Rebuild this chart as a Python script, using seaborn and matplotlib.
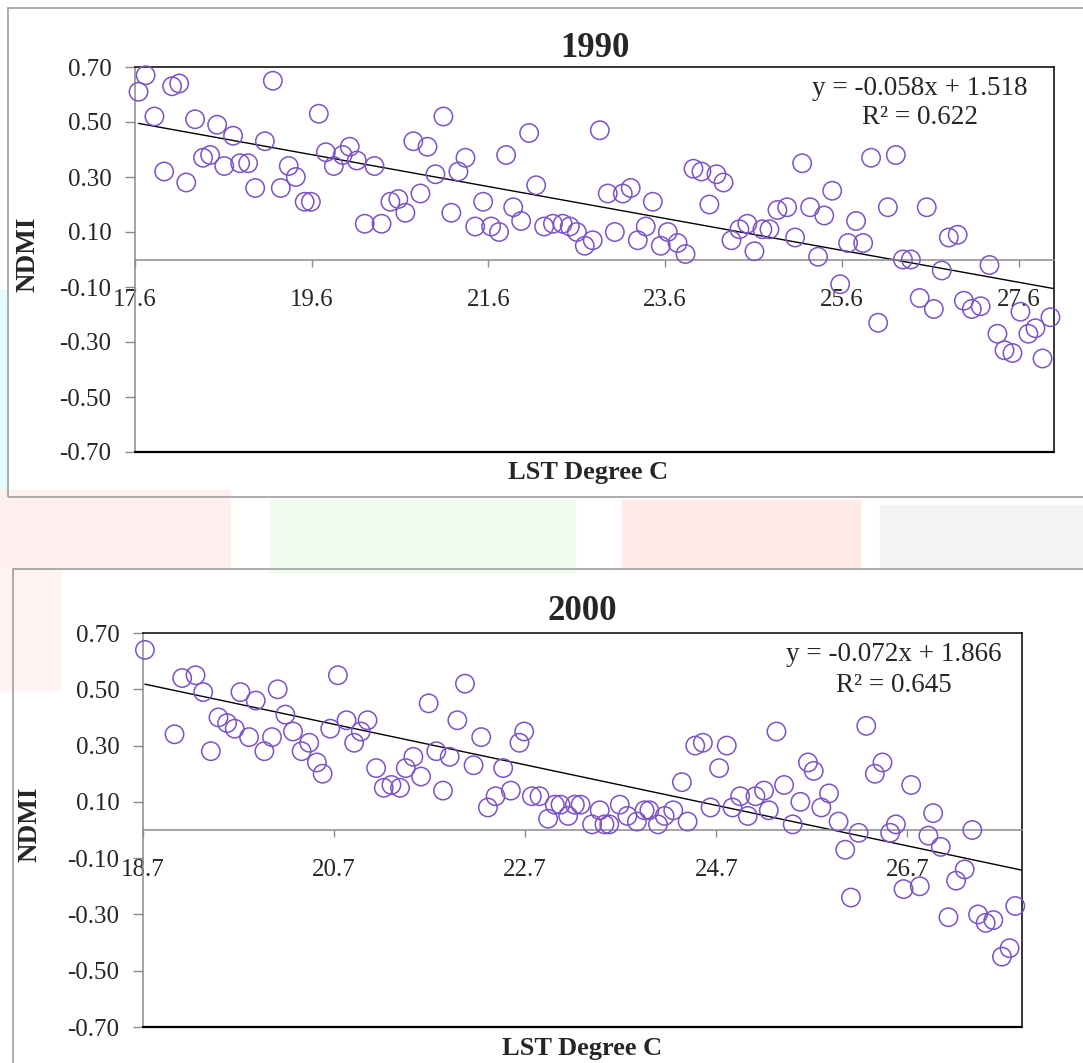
import numpy as np
import matplotlib.pyplot as plt
from matplotlib.patches import Rectangle
from matplotlib.ticker import FormatStrFormatter
import seaborn as sns

# values (LST in degree C, NDMI)
lst_1990 = [17.64, 17.72, 17.82, 17.93, 18.02, 18.10, 18.18, 18.28, 18.37, 18.45,
            18.53, 18.61, 18.71, 18.79, 18.88, 18.96, 19.07, 19.16, 19.25, 19.34,
            19.42, 19.52, 19.59, 19.68, 19.76, 19.85, 19.95, 20.03, 20.11, 20.20,
            20.31, 20.39, 20.49, 20.58, 20.66, 20.75, 20.83, 20.91, 21.00, 21.09,
            21.18, 21.26, 21.34, 21.45, 21.54, 21.63, 21.72, 21.80, 21.88, 21.97,
            22.06, 22.14, 22.23, 22.33, 22.44, 22.52, 22.60, 22.69, 22.78, 22.86,
            22.95, 23.03, 23.12, 23.21, 23.29, 23.38, 23.46, 23.55, 23.63, 23.74,
            23.83, 23.92, 24.01, 24.10, 24.18, 24.26, 24.35, 24.44, 24.53, 24.61,
            24.70, 24.78, 24.87, 24.98, 25.07, 25.15, 25.24, 25.33, 25.40, 25.49,
            25.58, 25.67, 25.76, 25.84, 25.93, 26.01, 26.12, 26.21, 26.29, 26.38,
            26.48, 26.56, 26.64, 26.73, 26.81, 26.91, 26.98, 27.07, 27.17, 27.27,
            27.36, 27.44, 27.53, 27.62, 27.71, 27.79, 27.87, 27.96]
ndmi_1990 = [0.61, 0.67, 0.52, 0.32, 0.63, 0.64, 0.28, 0.51, 0.37, 0.38,
             0.49, 0.34, 0.45, 0.35, 0.35, 0.26, 0.43, 0.65, 0.26, 0.34,
             0.30, 0.21, 0.21, 0.53, 0.39, 0.34, 0.38, 0.41, 0.36, 0.13,
             0.34, 0.13, 0.21, 0.22, 0.17, 0.43, 0.24, 0.41, 0.31, 0.52,
             0.17, 0.32, 0.37, 0.12, 0.21, 0.12, 0.10, 0.38, 0.19, 0.14,
             0.46, 0.27, 0.12, 0.13, 0.13, 0.12, 0.10, 0.05, 0.07, 0.47,
             0.24, 0.10, 0.24, 0.26, 0.07, 0.12, 0.21, 0.05, 0.10, 0.06,
             0.02, 0.33, 0.32, 0.20, 0.31, 0.28, 0.07, 0.11, 0.13, 0.03,
             0.11, 0.11, 0.18, 0.19, 0.08, 0.35, 0.19, 0.01, 0.16, 0.25,
             -0.09, 0.06, 0.14, 0.06, 0.37, -0.23, 0.19, 0.38, 0.00, 0.00,
             -0.14, 0.19, -0.18, -0.04, 0.08, 0.09, -0.15, -0.18, -0.17, -0.02,
             -0.27, -0.33, -0.34, -0.19, -0.27, -0.25, -0.36, -0.21]

lst_2000 = [18.72, 19.03, 19.11, 19.25, 19.33, 19.41, 19.49, 19.58, 19.66, 19.72,
            19.81, 19.88, 19.97, 20.05, 20.11, 20.19, 20.27, 20.36, 20.44, 20.52,
            20.58, 20.66, 20.74, 20.83, 20.91, 20.98, 21.05, 21.14, 21.22, 21.30,
            21.39, 21.45, 21.53, 21.61, 21.69, 21.77, 21.84, 21.91, 21.99, 22.07,
            22.16, 22.24, 22.31, 22.39, 22.47, 22.55, 22.64, 22.69, 22.77, 22.85,
            22.94, 23.01, 23.07, 23.15, 23.22, 23.28, 23.40, 23.48, 23.53, 23.58,
            23.69, 23.77, 23.87, 23.95, 24.00, 24.09, 24.16, 24.25, 24.34, 24.40,
            24.48, 24.56, 24.64, 24.73, 24.81, 24.87, 24.95, 25.03, 25.11, 25.20,
            25.25, 25.33, 25.41, 25.50, 25.58, 25.66, 25.72, 25.80, 25.88, 25.98,
            26.05, 26.11, 26.19, 26.27, 26.36, 26.44, 26.52, 26.58, 26.66, 26.74,
            26.83, 26.92, 26.97, 27.05, 27.13, 27.21, 27.30, 27.38, 27.44, 27.52,
            27.60, 27.69, 27.77, 27.83]
ndmi_2000 = [0.64, 0.34, 0.54, 0.55, 0.49, 0.28, 0.40, 0.38, 0.36, 0.49,
             0.33, 0.46, 0.28, 0.33, 0.50, 0.41, 0.35, 0.28, 0.31, 0.24,
             0.20, 0.36, 0.55, 0.39, 0.31, 0.35, 0.39, 0.22, 0.15, 0.16,
             0.15, 0.22, 0.26, 0.19, 0.45, 0.28, 0.14, 0.26, 0.39, 0.52,
             0.23, 0.33, 0.08, 0.12, 0.22, 0.14, 0.31, 0.35, 0.12, 0.12,
             0.04, 0.09, 0.09, 0.05, 0.09, 0.09, 0.02, 0.07, 0.02, 0.02,
             0.09, 0.05, 0.03, 0.07, 0.07, 0.02, 0.05, 0.07, 0.17, 0.03,
             0.30, 0.31, 0.08, 0.22, 0.30, 0.08, 0.12, 0.05, 0.12, 0.14,
             0.07, 0.35, 0.16, 0.02, 0.10, 0.24, 0.21, 0.08, 0.13, 0.03,
             -0.07, -0.24, -0.01, 0.37, 0.20, 0.24, -0.01, 0.02, -0.21, 0.16,
             -0.20, -0.02, 0.06, -0.06, -0.31, -0.18, -0.14, 0.00, -0.30, -0.33,
             -0.32, -0.45, -0.42, -0.27]

# trendlines as printed on the chart
slope_1990, intercept_1990, r2_1990 = -0.058, 1.518, 0.622
slope_2000, intercept_2000, r2_2000 = -0.072, 1.866, 0.645

x_ticks_1990 = [17.6, 19.6, 21.6, 23.6, 25.6, 27.6]
x_ticks_2000 = [18.7, 20.7, 22.7, 24.7, 26.7]
y_ticks = [-0.7, -0.5, -0.3, -0.1, 0.1, 0.3, 0.5, 0.7]

purple = '#7d52c4'
grey = '#8c8c8c'

sns.set_style('white')
plt.rcParams['font.family'] = ['Liberation Serif', 'DejaVu Serif']

W, H = 1083, 1063
fig = plt.figure(figsize=(W / 100, H / 100), dpi=100)


def fig_box(x0, y0, x1, y1):
    # pixel box (top-left origin) -> figure fraction [left, bottom, width, height]
    return [x0 / W, 1 - y1 / H, (x1 - x0) / W, (y1 - y0) / H]


def add_rect(x0, y0, x1, y1, **kw):
    l, b, w, h = fig_box(x0, y0, x1, y1)
    fig.patches.append(Rectangle((l, b), w, h, transform=fig.transFigure, **kw))


# faint watermark showing between the two charts
add_rect(0, 290, 8, 497, color='#e6fcfc', zorder=0)
add_rect(0, 490, 230, 569, color='#fff0f0', zorder=0)
add_rect(0, 569, 60, 690, color='#fff3f3', zorder=0)
add_rect(270, 500, 575, 572, color='#f1fbee', zorder=0)
add_rect(622, 500, 860, 569, color='#feebe6', zorder=0)
add_rect(880, 505, 1083, 569, color='#f4f4f4', zorder=0)

# chart area borders
add_rect(8, 8, 1095, 497, fill=False, ec='#a6a6a6', lw=1.3, zorder=1)
add_rect(13, 569, 1095, 1075, fill=False, ec='#a6a6a6', lw=1.3, zorder=1)


def draw_panel(ax, x, y, title, slope, intercept, r2, xticks, xlim,
               title_pad, ylab_x, ylab_y, xlab_x, xlab_y):
    sns.scatterplot(x=x, y=y, ax=ax, s=175, fc='none', ec=purple,
                    linewidth=1.1, zorder=3, clip_on=False)
    xs = np.array([min(x), xlim[1]])
    ax.plot(xs, slope * xs + intercept, color='black', lw=1.0, zorder=2)

    ax.set_xlim(xlim)
    ax.set_ylim(-0.7, 0.7)
    ax.set_xticks(xticks)
    ax.set_yticks(y_ticks)
    ax.xaxis.set_major_formatter(FormatStrFormatter('%.1f'))
    ax.yaxis.set_major_formatter(FormatStrFormatter('%.2f'))

    # excel style: category axis crosses at zero
    ax.spines['bottom'].set_position(('data', 0))
    ax.spines['bottom'].set_color(grey)
    ax.spines['left'].set_color(grey)
    ax.spines['top'].set_color('black')
    ax.spines['right'].set_color('black')
    for s in ax.spines.values():
        s.set_linewidth(1.1)
    ax.axhline(-0.7, color='black', lw=1.6, clip_on=False, zorder=4)

    ax.tick_params(axis='x', bottom=True, direction='out', length=5, width=1,
                   color=grey, pad=16, labelsize=18)
    ax.tick_params(axis='y', left=True, direction='out', length=7, width=1,
                   color=grey, pad=10, labelsize=18)

    ax.set_title(title, fontsize=25, fontweight='bold', pad=title_pad)
    ax.set_xlabel('LST Degree C', fontsize=19, fontweight='bold')
    ax.set_ylabel('NDMI', fontsize=19.5, fontweight='bold')
    ax.xaxis.set_label_coords(xlab_x, xlab_y)
    ax.xaxis.label.set_va('center')
    ax.yaxis.set_label_coords(ylab_x, ylab_y)
    ax.yaxis.label.set_va('center')

    ax.text(0.854, 0.945, f'y = {slope:.3f}x + {intercept:.3f}', transform=ax.transAxes,
            ha='center', va='center', fontsize=19.5)
    ax.text(0.854, 0.868, f'R\u00b2 = {r2:.3f}', transform=ax.transAxes,
            ha='center', va='center', fontsize=19.5)


ax1 = fig.add_axes(fig_box(135, 67, 1054, 452))
draw_panel(ax1, lst_1990, ndmi_1990, '1990', slope_1990, intercept_1990, r2_1990,
           x_ticks_1990, (17.6, 28.0), 7, -0.116, 0.514, 0.493, -0.052)

ax2 = fig.add_axes(fig_box(143, 633, 1022, 1027))
draw_panel(ax2, lst_2000, ndmi_2000, '2000', slope_2000, intercept_2000, r2_2000,
           x_ticks_2000, (18.7, 27.9), 9, -0.128, 0.514, 0.499, -0.054)

fig.savefig('out.png', dpi=100)
